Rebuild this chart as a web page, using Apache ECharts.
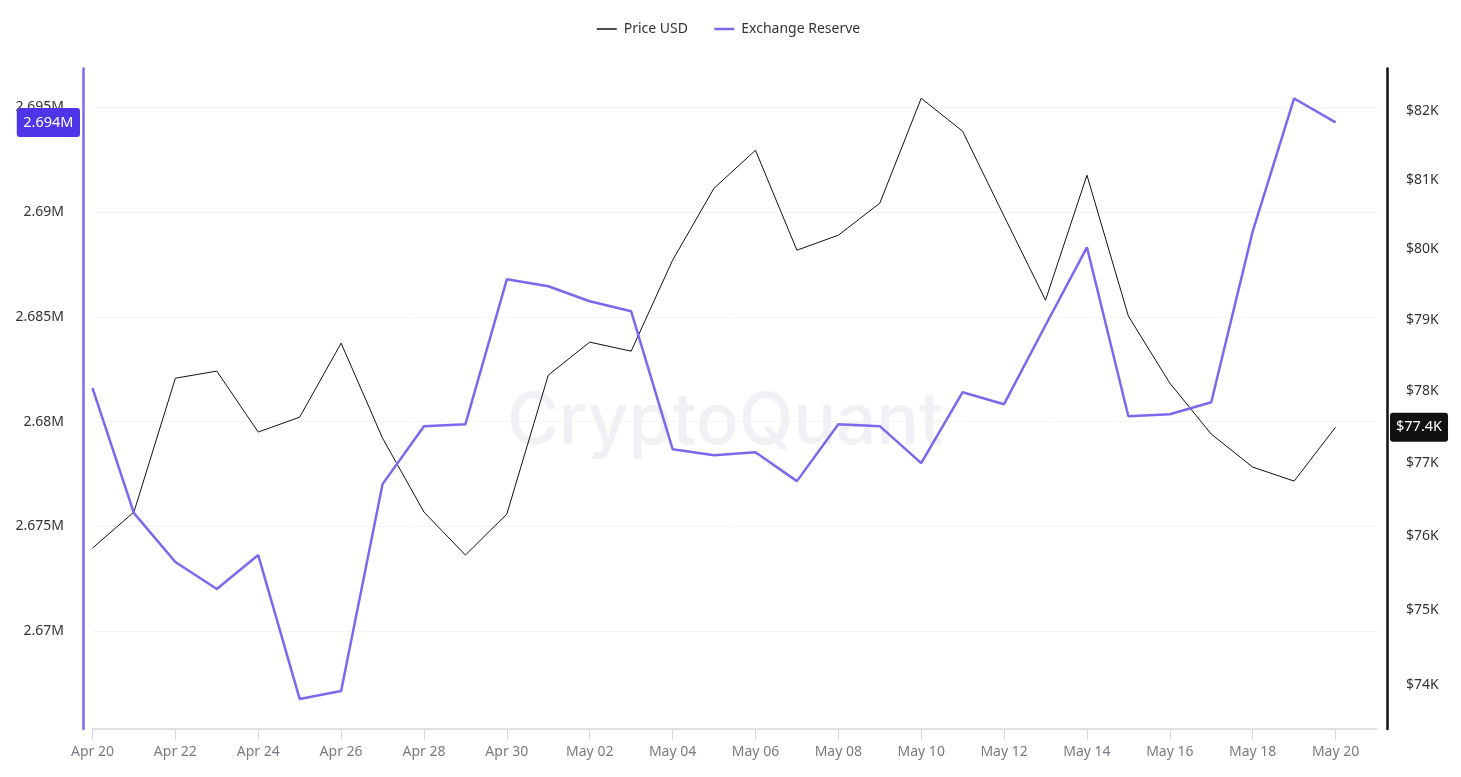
<!DOCTYPE html>
<html>
<head>
<meta charset="utf-8">
<style>
  html, body { margin: 0; padding: 0; background: #fff; }
  #main { width: 1461px; height: 777px; }
</style>
<script src="https://cdn.jsdelivr.net/npm/echarts@6/dist/echarts.min.js"></script>
</head>
<body>
<div id="main"></div>
<script>
// last category has no data, the original axis runs one day past May 20
const dates = [
  'Apr 20', 'Apr 21', 'Apr 22', 'Apr 23', 'Apr 24', 'Apr 25', 'Apr 26', 'Apr 27', 'Apr 28', 'Apr 29', 'Apr 30',
  'May 01', 'May 02', 'May 03', 'May 04', 'May 05', 'May 06', 'May 07', 'May 08', 'May 09', 'May 10',
  'May 11', 'May 12', 'May 13', 'May 14', 'May 15', 'May 16', 'May 17', 'May 18', 'May 19', 'May 20', 'May 21'
];
const priceUsd = [
  75835, 76326, 78176, 78275, 77426, 77633, 78668, 77342, 76326, 75741, 76299,
  78219, 78682, 78555, 79844, 80879, 81430, 79987, 80202, 80662, 82191,
  81707, 80475, 79275, 81067, 79049, 78107, 77398, 76942, 76750, 77494
];
const exchangeReserve = [
  2681593, 2675630, 2673292, 2672004, 2673626, 2666756, 2667138, 2677013, 2679781, 2679876, 2686794,
  2686460, 2685744, 2685267, 2678683, 2678397, 2678540, 2677157, 2679876, 2679781, 2678015,
  2681403, 2680830, 2684599, 2688321, 2680258, 2680353, 2680926, 2689084, 2695429, 2694284
];
const priceTicks = [74000, 75000, 76000, 77000, 78000, 79000, 80000, 81000, 82000];

const FONT = '"Noto Sans", sans-serif';
const PURPLE = '#7b68ee';

const chart = echarts.init(document.getElementById('main'));

chart.setOption({
  animation: false,
  textStyle: { fontFamily: FONT },
  legend: {
    top: 17,
    left: 591,
    itemWidth: 20,
    itemHeight: 14,
    itemGap: 25,
    itemStyle: { opacity: 0 },
    textStyle: { fontFamily: FONT, fontSize: 14, color: '#333', padding: [0, 0, 0, 2] },
    data: [
      { name: 'Price USD', lineStyle: { width: 1.5 } },
      { name: 'Exchange Reserve', lineStyle: { width: 2.5 } }
    ]
  },
  grid: { left: 92.5, right: 84, top: 68.5, bottom: 48 },
  graphic: [{
    type: 'text',
    left: 507,
    top: 387,
    silent: true,
    z: 0,
    style: {
      text: 'CryptoQuant',
      fontFamily: '"Inter", sans-serif',
      fontSize: 71,
      fontWeight: 500,
      fill: '#f0f0f5'
    }
  }],
  xAxis: {
    type: 'category',
    boundaryGap: false,
    data: dates,
    axisLine: { lineStyle: { color: '#e0e0e8', width: 2 } },
    axisTick: { interval: 1, length: 11, lineStyle: { color: '#d8d8e0' } },
    axisLabel: { interval: 1, margin: 16, fontFamily: FONT, fontSize: 14, color: '#7a7a85' },
    splitLine: { show: false }
  },
  yAxis: [{
    type: 'value',
    position: 'left',
    offset: 9.5,
    min: 2665320,
    max: 2696860,
    splitNumber: 6,
    axisLine: { show: true, lineStyle: { color: PURPLE, width: 2.5 } },
    axisTick: { show: false },
    axisLabel: {
      margin: 19,
      padding: [3, 0, 0, 0],
      fontFamily: FONT,
      fontSize: 14,
      color: '#333',
      showMinLabel: false,
      showMaxLabel: false,
      formatter: function (v) { return v / 1000000 + 'M'; }
    },
    splitLine: { showMinLine: false, showMaxLine: false, lineStyle: { color: '#f4f4f6', width: 1 } },
    axisPointer: {
      show: true,
      status: 'show',
      value: exchangeReserve[exchangeReserve.length - 1],
      triggerTooltip: false,
      lineStyle: { opacity: 0 },
      label: {
        show: true,
        margin: 3,
        padding: [7, 6.5],
        borderRadius: 3,
        backgroundColor: '#4f35e8',
        color: '#fff',
        fontFamily: FONT,
        fontSize: 14.5,
        formatter: function (p) { return (p.value / 1000000).toFixed(3) + 'M'; }
      }
    }
  }, {
    type: 'log',
    position: 'right',
    offset: 10,
    min: 73420,
    max: 82630,
    axisLine: { show: true, lineStyle: { color: '#111', width: 2.5 } },
    axisTick: { show: false },
    axisLabel: {
      margin: 19,
      padding: [3, 0, 0, 0],
      customValues: priceTicks,
      fontFamily: FONT,
      fontSize: 14,
      color: '#333',
      formatter: function (v) { return '$' + Math.round(v / 1000) + 'K'; }
    },
    splitLine: { show: false },
    axisPointer: {
      show: true,
      status: 'show',
      value: priceUsd[priceUsd.length - 1],
      triggerTooltip: false,
      lineStyle: { opacity: 0 },
      label: {
        show: true,
        margin: 3,
        padding: [7, 6],
        borderRadius: 3,
        backgroundColor: '#111',
        color: '#fff',
        fontFamily: FONT,
        fontSize: 14.5,
        formatter: function (p) { return '$' + (Math.floor(p.value / 100) / 10) + 'K'; }
      }
    }
  }],
  series: [{
    name: 'Price USD',
    type: 'line',
    yAxisIndex: 1,
    data: priceUsd,
    symbol: 'none',
    z: 3,
    lineStyle: { color: '#111', width: 1 },
    itemStyle: { color: '#111' }
  }, {
    name: 'Exchange Reserve',
    type: 'line',
    yAxisIndex: 0,
    data: exchangeReserve,
    symbol: 'none',
    z: 4,
    lineStyle: { color: PURPLE, width: 2.5 },
    itemStyle: { color: PURPLE }
  }]
});
</script>
</body>
</html>
